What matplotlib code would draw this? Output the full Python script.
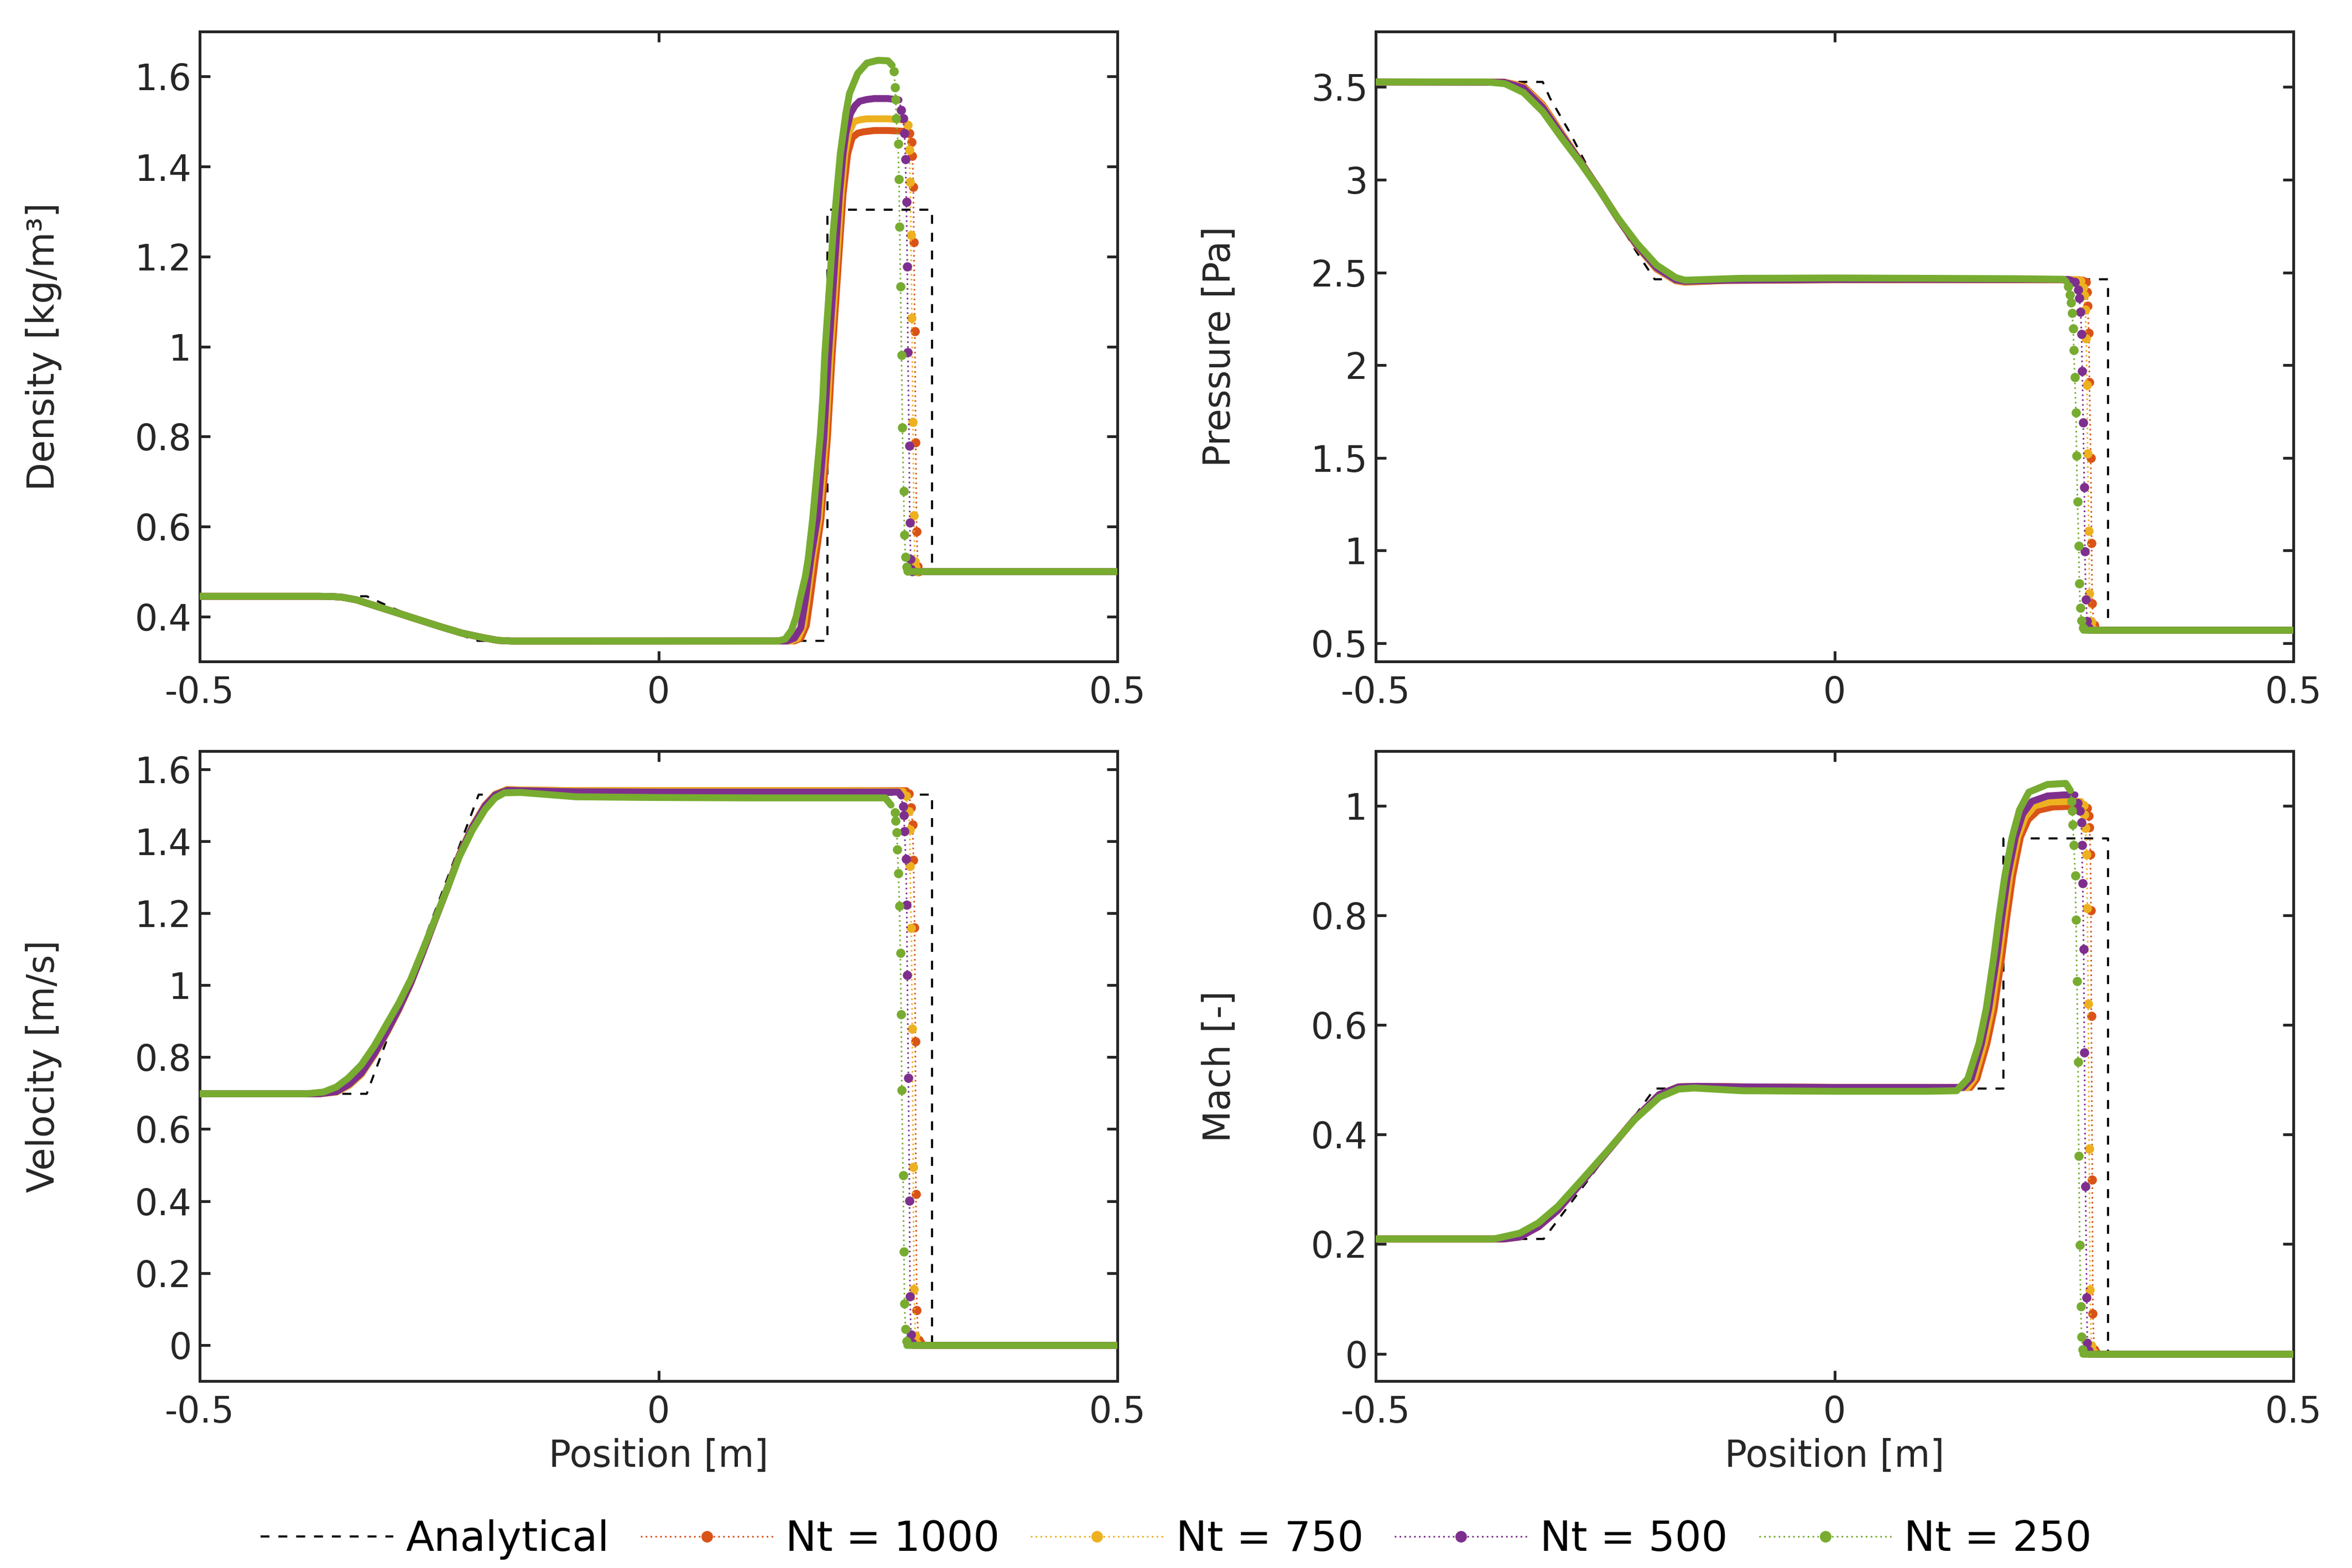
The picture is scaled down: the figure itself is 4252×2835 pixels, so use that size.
import matplotlib
matplotlib.use("Agg")
import matplotlib.pyplot as plt
from matplotlib.lines import Line2D
from matplotlib.ticker import FormatStrFormatter

plt.rcParams['font.family'] = ['DejaVu Sans']
plt.rcParams['axes.unicode_minus'] = False

# --- data (Lax shock tube, x in m) ---
x_domain = [-0.5, 0.5]
runs = ['Nt = 1000', 'Nt = 750', 'Nt = 500', 'Nt = 250']
run_colors = ['#D95319', '#EDB120', '#7E2F8E', '#77AC30']

# density
rho_exact_x = [-0.5, -0.318, -0.29, -0.26, -0.23, -0.197, 0.184, 0.184, 0.298, 0.298, 0.5]
rho_exact_y = [0.445, 0.445, 0.419, 0.394, 0.369, 0.346, 0.346, 1.304, 1.304, 0.5, 0.5]
rho_fan_x = [-0.5, -0.37, -0.356, -0.345, -0.329, -0.306, -0.283, -0.26, -0.237, -0.214, -0.191, -0.175, -0.16]
rho_fan_y = [0.445, 0.445, 0.4445, 0.443, 0.437, 0.422, 0.407, 0.392, 0.377, 0.363, 0.353, 0.347, 0.3455]
rho_right = 0.5

rho_1000_x = [0.148, 0.155, 0.161, 0.165, 0.171, 0.177, 0.184, 0.189, 0.195, 0.201, 0.206, 0.211, 0.217, 0.223, 0.235, 0.250, 0.270]
rho_1000_y = [0.3457, 0.352, 0.38, 0.438, 0.53, 0.618, 0.798, 0.978, 1.158, 1.338, 1.428, 1.464, 1.474, 1.477, 1.48, 1.48, 1.478]
rho_1000_sx = [0.2736, 0.2756, 0.2766, 0.2776, 0.2782, 0.2792, 0.2802, 0.2812, 0.2826, 0.2835]
rho_1000_sy = [1.474, 1.454, 1.423, 1.355, 1.232, 1.034, 0.787, 0.589, 0.512, 0.501]

rho_750_x = [0.145, 0.152, 0.158, 0.162, 0.168, 0.175, 0.182, 0.187, 0.193, 0.199, 0.203, 0.207, 0.213, 0.220, 0.227, 0.250, 0.268]
rho_750_y = [0.3457, 0.352, 0.38, 0.438, 0.53, 0.618, 0.798, 0.978, 1.158, 1.338, 1.428, 1.473, 1.5, 1.504, 1.506, 1.506, 1.503]
rho_750_sx = [0.2716, 0.2732, 0.2742, 0.275, 0.276, 0.2772, 0.2782, 0.2792, 0.28, 0.281]
rho_750_sy = [1.492, 1.437, 1.366, 1.248, 1.063, 0.832, 0.625, 0.523, 0.51, 0.501]

rho_500_x = [0.14, 0.148, 0.155, 0.160, 0.166, 0.173, 0.180, 0.185, 0.191, 0.197, 0.201, 0.204, 0.209, 0.214, 0.219, 0.227, 0.235, 0.250, 0.262]
rho_500_y = [0.3457, 0.352, 0.375, 0.438, 0.53, 0.618, 0.798, 0.978, 1.158, 1.338, 1.428, 1.473, 1.517, 1.535, 1.545, 1.549, 1.551, 1.551, 1.548]
rho_500_sx = [0.2645, 0.2665, 0.268, 0.269, 0.270, 0.271, 0.2717, 0.273, 0.2737, 0.2747, 0.2753, 0.2765]
rho_500_sy = [1.526, 1.507, 1.474, 1.416, 1.321, 1.178, 0.987, 0.780, 0.609, 0.528, 0.505, 0.501]

rho_250_x = [0.13, 0.138, 0.145, 0.150, 0.154, 0.160, 0.163, 0.168, 0.172, 0.176, 0.179, 0.181, 0.184, 0.187, 0.190, 0.194, 0.198, 0.204, 0.208, 0.217, 0.227, 0.239, 0.250, 0.2545]
rho_250_y = [0.3457, 0.350, 0.37, 0.40, 0.438, 0.49, 0.528, 0.618, 0.708, 0.798, 0.888, 0.978, 1.068, 1.158, 1.248, 1.338, 1.428, 1.517, 1.562, 1.607, 1.630, 1.636, 1.635, 1.625]
rho_250_sx = [0.2564, 0.2578, 0.2584, 0.259, 0.261, 0.262, 0.2627, 0.2637, 0.2647, 0.2657, 0.2670, 0.268, 0.269, 0.2704, 0.2715]
rho_250_sy = [1.612, 1.576, 1.549, 1.507, 1.450, 1.372, 1.266, 1.133, 0.981, 0.820, 0.679, 0.582, 0.533, 0.510, 0.502]

# pressure
p_exact_x = [-0.5, -0.318, -0.31, -0.289, -0.265, -0.241, -0.217, -0.196, 0.298, 0.298, 0.5]
p_exact_y = [3.528, 3.528, 3.44, 3.26, 3.03, 2.82, 2.62, 2.463, 2.463, 0.571, 0.571]
p_right = 0.571

p_1000_x = [-0.5, -0.36, -0.339, -0.318, -0.298, -0.277, -0.256, -0.236, -0.215, -0.194, -0.173, -0.163, -0.12, 0.0, 0.2, 0.267, 0.271]
p_1000_y = [3.528, 3.527, 3.505, 3.405, 3.255, 3.10, 2.945, 2.79, 2.64, 2.518, 2.455, 2.447, 2.456, 2.46, 2.46, 2.46, 2.458]
p_1000_sx = [0.2737, 0.2753, 0.2757, 0.2771, 0.2777, 0.2791, 0.2801, 0.2807, 0.2827, 0.2841]
p_1000_sy = [2.448, 2.395, 2.318, 2.174, 1.907, 1.5, 1.04, 0.713, 0.596, 0.576]

p_750_x = [-0.5, -0.36, -0.339, -0.318, -0.298, -0.277, -0.256, -0.236, -0.215, -0.194, -0.173, -0.163, -0.12, 0.0, 0.2, 0.262, 0.265]
p_750_y = [3.528, 3.527, 3.50, 3.40, 3.25, 3.10, 2.945, 2.79, 2.642, 2.52, 2.457, 2.449, 2.457, 2.461, 2.461, 2.461, 2.458]
p_750_sx = [0.2677, 0.2707, 0.2721, 0.2733, 0.2741, 0.2751, 0.2757, 0.2771, 0.2777, 0.2797, 0.2807]
p_750_sy = [2.455, 2.417, 2.375, 2.299, 2.143, 1.892, 1.524, 1.104, 0.766, 0.614, 0.583]

p_500_x = [-0.5, -0.36, -0.339, -0.318, -0.298, -0.277, -0.256, -0.236, -0.215, -0.194, -0.173, -0.163, -0.12, 0.0, 0.2, 0.255, 0.259]
p_500_y = [3.528, 3.526, 3.495, 3.39, 3.245, 3.098, 2.944, 2.79, 2.645, 2.525, 2.46, 2.452, 2.458, 2.462, 2.462, 2.462, 2.455]
p_500_sx = [0.2617, 0.2657, 0.2667, 0.2681, 0.2691, 0.2699, 0.2709, 0.2721, 0.2727, 0.2739, 0.2753, 0.2767]
p_500_sy = [2.448, 2.407, 2.361, 2.288, 2.166, 1.968, 1.691, 1.341, 0.994, 0.735, 0.617, 0.583]

p_250_x = [-0.5, -0.379, -0.359, -0.339, -0.318, -0.298, -0.277, -0.256, -0.236, -0.215, -0.194, -0.173, -0.163, -0.104, 0.0, 0.1, 0.2, 0.2497, 0.2525]
p_250_y = [3.528, 3.528, 3.518, 3.471, 3.368, 3.230, 3.092, 2.943, 2.793, 2.655, 2.540, 2.472, 2.458, 2.468, 2.470, 2.468, 2.466, 2.463, 2.450]
p_250_sx = [0.2547, 0.2567, 0.2577, 0.2589, 0.2601, 0.2607, 0.2617, 0.2631, 0.2637, 0.2647, 0.2661, 0.2667, 0.2677, 0.2689, 0.2707]
p_250_sy = [2.425, 2.379, 2.338, 2.280, 2.197, 2.082, 1.933, 1.743, 1.512, 1.264, 1.025, 0.822, 0.690, 0.621, 0.583]

# velocity
u_exact_x = [-0.5, -0.318, -0.196, 0.298, 0.298, 0.5]
u_exact_y = [0.698, 0.698, 1.529, 1.529, 0.0, 0.0]
u_right = 0.0

u_1000_x = [-0.5, -0.37, -0.351, -0.337, -0.324, -0.31, -0.297, -0.283, -0.270, -0.257, -0.244, -0.23, -0.217, -0.203, -0.189, -0.178, -0.165, -0.15, -0.09, 0.0, 0.1, 0.2, 0.270]
u_1000_y = [0.698, 0.698, 0.703, 0.722, 0.752, 0.805, 0.864, 0.932, 1.005, 1.09, 1.178, 1.27, 1.362, 1.44, 1.50, 1.53, 1.543, 1.542, 1.540, 1.540, 1.540, 1.540, 1.540]
u_1000_sx = [0.2724, 0.2754, 0.2768, 0.2778, 0.2790, 0.2798, 0.2804, 0.2814, 0.2834, 0.2854]
u_1000_sy = [1.532, 1.493, 1.445, 1.348, 1.160, 0.844, 0.419, 0.097, 0.014, 0.006]

u_750_x = [-0.5, -0.37, -0.351, -0.337, -0.324, -0.31, -0.297, -0.283, -0.270, -0.257, -0.244, -0.23, -0.217, -0.203, -0.189, -0.178, -0.165, -0.15, -0.09, 0.0, 0.1, 0.2, 0.2665]
u_750_y = [0.698, 0.698, 0.703, 0.722, 0.752, 0.805, 0.864, 0.932, 1.005, 1.09, 1.178, 1.27, 1.362, 1.44, 1.50, 1.53, 1.543, 1.542, 1.540, 1.540, 1.540, 1.540, 1.538]
u_750_sx = [0.2694, 0.2724, 0.2738, 0.2740, 0.2754, 0.2764, 0.2774, 0.2784, 0.2798, 0.2814]
u_750_sy = [1.526, 1.482, 1.432, 1.331, 1.159, 0.879, 0.494, 0.155, 0.026, 0.006]

u_500_x = [-0.5, -0.37, -0.351, -0.337, -0.324, -0.31, -0.297, -0.283, -0.270, -0.257, -0.244, -0.23, -0.217, -0.203, -0.189, -0.178, -0.165, -0.15, -0.09, 0.0, 0.1, 0.2, 0.2613, 0.2644]
u_500_y = [0.698, 0.698, 0.704, 0.725, 0.755, 0.808, 0.866, 0.934, 1.006, 1.09, 1.178, 1.27, 1.36, 1.438, 1.498, 1.528, 1.541, 1.540, 1.537, 1.536, 1.536, 1.536, 1.536, 1.525]
u_500_sx = [0.2664, 0.2674, 0.2680, 0.2694, 0.2704, 0.2710, 0.2722, 0.2734, 0.2740, 0.2750, 0.2764]
u_500_sy = [1.496, 1.471, 1.427, 1.350, 1.223, 1.027, 0.742, 0.401, 0.135, 0.029, 0.006]

u_250_x = [-0.5, -0.384, -0.365, -0.351, -0.338, -0.324, -0.31, -0.297, -0.283, -0.270, -0.257, -0.244, -0.23, -0.217, -0.203, -0.189, -0.178, -0.168, -0.150, -0.09, 0.0, 0.1, 0.2, 0.247, 0.2533]
u_250_y = [0.698, 0.698, 0.703, 0.717, 0.742, 0.778, 0.83, 0.888, 0.95, 1.016, 1.097, 1.180, 1.27, 1.357, 1.43, 1.488, 1.52, 1.534, 1.535, 1.523, 1.521, 1.520, 1.520, 1.520, 1.500]
u_250_sx = [0.2574, 0.2584, 0.2597, 0.2603, 0.2613, 0.2626, 0.2634, 0.2644, 0.2650, 0.2664, 0.2674, 0.2680, 0.2690, 0.2704]
u_250_sy = [1.479, 1.457, 1.424, 1.377, 1.311, 1.220, 1.089, 0.919, 0.708, 0.472, 0.259, 0.115, 0.045, 0.011]

# Mach number
M_exact_x = [-0.5, -0.317, -0.256, -0.196, 0.184, 0.184, 0.298, 0.298, 0.5]
M_exact_y = [0.2095, 0.2095, 0.345, 0.484, 0.484, 0.9406, 0.9406, 0.0, 0.0]
M_fan_x = [-0.5, -0.36, -0.343, -0.3225, -0.3015, -0.274, -0.246, -0.218, -0.191, -0.17, -0.15, -0.1, 0.0, 0.1]
M_fan_y = [0.2095, 0.2095, 0.213, 0.232, 0.262, 0.316, 0.372, 0.428, 0.473, 0.487, 0.488, 0.487, 0.486, 0.486]
M_right = 0.0

M_1000_x = [0.148, 0.155, 0.166, 0.174, 0.182, 0.188, 0.194, 0.2025, 0.211, 0.222, 0.238, 0.255, 0.273]
M_1000_y = [0.486, 0.502, 0.566, 0.630, 0.723, 0.801, 0.872, 0.943, 0.975, 0.992, 0.998, 0.999, 0.999]
M_1000_sx = [0.2754, 0.2768, 0.2778, 0.2788, 0.2794, 0.2798, 0.2808, 0.2814, 0.2828, 0.2848]
M_1000_sy = [0.9964, 0.9822, 0.9609, 0.911, 0.8093, 0.6159, 0.3171, 0.073, 0.0077, 0.003]

M_750_x = [0.145, 0.152, 0.163, 0.171, 0.179, 0.185, 0.191, 0.1995, 0.208, 0.218, 0.235, 0.255, 0.2685]
M_750_y = [0.486, 0.502, 0.566, 0.630, 0.723, 0.801, 0.872, 0.943, 0.98, 1.0, 1.007, 1.008, 1.008]
M_750_sx = [0.2714, 0.2722, 0.2734, 0.2748, 0.2754, 0.2764, 0.2774, 0.2784, 0.2798, 0.2818]
M_750_sy = [1.0014, 0.9843, 0.9594, 0.911, 0.8136, 0.6386, 0.3739, 0.1164, 0.0147, 0.004]

M_500_x = [0.14, 0.149, 0.160, 0.168, 0.1765, 0.1825, 0.1885, 0.197, 0.205, 0.215, 0.232, 0.250, 0.262]
M_500_y = [0.486, 0.502, 0.566, 0.630, 0.723, 0.801, 0.872, 0.943, 0.985, 1.008, 1.018, 1.020, 1.020]
M_500_sx = [0.2648, 0.2674, 0.2688, 0.2694, 0.2704, 0.2714, 0.2722, 0.2734, 0.2748, 0.2754, 0.2768]
M_500_sy = [1.005, 0.9914, 0.9697, 0.9288, 0.8591, 0.7389, 0.5497, 0.3056, 0.1022, 0.0197, 0.0055]

M_250_fan_x = [-0.5, -0.371, -0.343, -0.3225, -0.3015, -0.274, -0.246, -0.218, -0.191, -0.170, -0.153, -0.101, 0.0, 0.1]
M_250_fan_y = [0.2095, 0.2095, 0.220, 0.239, 0.269, 0.320, 0.373, 0.427, 0.468, 0.483, 0.485, 0.480, 0.479, 0.479]
M_250_x = [0.133, 0.1452, 0.1573, 0.1653, 0.1734, 0.1794, 0.1855, 0.1935, 0.2016, 0.2117, 0.2318, 0.252, 0.257]
M_250_y = [0.480, 0.502, 0.566, 0.630, 0.723, 0.801, 0.872, 0.943, 0.993, 1.025, 1.039, 1.041, 1.028]
M_250_sx = [0.2583, 0.2591, 0.2597, 0.2607, 0.2623, 0.2631, 0.2641, 0.2653, 0.2661, 0.2672, 0.2682, 0.2692, 0.2704]
M_250_sy = [1.0085, 0.9914, 0.9659, 0.9288, 0.8733, 0.7922, 0.680, 0.5326, 0.3612, 0.1983, 0.0866, 0.0311, 0.0077]

# --- styling ---
BAND = 3.0      # width of the dense-dot band (pt)
DOT = 3.0       # marker size (pt)
DOTTED = (0, (1, 2))
DASHED = (0, (4.3, 4.3))
INK = '#262626'


def draw_run(ax, x, y, sx, sy, right, color, z):
    # smooth part: the markers overlap into a solid band
    ax.plot(x, y, color=color, lw=BAND, solid_capstyle='round',
            solid_joinstyle='round', zorder=z)
    # shock: separated dots joined by a thin dotted line
    ax.plot([x[-1]] + sx, [y[-1]] + sy, color=color, lw=0.7, ls=DOTTED, zorder=z)
    ax.plot(sx, sy, 'o', color=color, ms=DOT, zorder=z)
    ax.plot([sx[-1], x_domain[1]], [right, right], color=color, lw=BAND,
            solid_capstyle='round', zorder=z)


def style_axes(ax, ylim, yticks, ylabel, xlabel=None):
    ax.set_xlim(x_domain)
    ax.set_ylim(ylim)
    ax.set_xticks([-0.5, 0, 0.5])
    ax.set_yticks(yticks)
    ax.xaxis.set_major_formatter(FormatStrFormatter('%g'))
    ax.yaxis.set_major_formatter(FormatStrFormatter('%g'))
    ax.tick_params(direction='in', top=True, right=True, length=4.5, width=1.2,
                   labelsize=15.5, colors=INK, labelcolor=INK)
    ax.tick_params(axis='x', pad=6)
    for s in ax.spines.values():
        s.set_linewidth(1.2)
        s.set_color(INK)
    ax.set_ylabel(ylabel, fontsize=16, color=INK)
    ax.yaxis.set_label_coords(-0.15, 0.5)
    if xlabel:
        ax.set_xlabel(xlabel, fontsize=16, color=INK)
        ax.xaxis.set_label_coords(0.5, -0.09)


fig = plt.figure(figsize=(4252 / 300, 2835 / 300), dpi=300)
W, H = 0.3902, 0.4018
ax_rho = fig.add_axes([0.0849, 0.5781, W, H])
ax_p = fig.add_axes([0.5849, 0.5781, W, H])
ax_u = fig.add_axes([0.0849, 0.1192, W, H])
ax_M = fig.add_axes([0.5849, 0.1192, W, H])

# density
ax_rho.plot(rho_exact_x, rho_exact_y, color='black', lw=0.9, ls=DASHED, zorder=1)
rho_runs = [(rho_1000_x, rho_1000_y, rho_1000_sx, rho_1000_sy),
            (rho_750_x, rho_750_y, rho_750_sx, rho_750_sy),
            (rho_500_x, rho_500_y, rho_500_sx, rho_500_sy),
            (rho_250_x, rho_250_y, rho_250_sx, rho_250_sy)]
for i, (x, y, sx, sy) in enumerate(rho_runs):
    draw_run(ax_rho, rho_fan_x + x, rho_fan_y + y, sx, sy, rho_right, run_colors[i], 2 + i)
style_axes(ax_rho, (0.3, 1.7), [0.4, 0.6, 0.8, 1.0, 1.2, 1.4, 1.6], 'Density [kg/m³]')

# pressure
ax_p.plot(p_exact_x, p_exact_y, color='black', lw=0.9, ls=DASHED, zorder=1)
p_runs = [(p_1000_x, p_1000_y, p_1000_sx, p_1000_sy),
          (p_750_x, p_750_y, p_750_sx, p_750_sy),
          (p_500_x, p_500_y, p_500_sx, p_500_sy),
          (p_250_x, p_250_y, p_250_sx, p_250_sy)]
for i, (x, y, sx, sy) in enumerate(p_runs):
    draw_run(ax_p, x, y, sx, sy, p_right, run_colors[i], 2 + i)
style_axes(ax_p, (0.4, 3.8), [0.5, 1.0, 1.5, 2.0, 2.5, 3.0, 3.5], 'Pressure [Pa]')

# velocity
ax_u.plot(u_exact_x, u_exact_y, color='black', lw=0.9, ls=DASHED, zorder=1)
u_runs = [(u_1000_x, u_1000_y, u_1000_sx, u_1000_sy),
          (u_750_x, u_750_y, u_750_sx, u_750_sy),
          (u_500_x, u_500_y, u_500_sx, u_500_sy),
          (u_250_x, u_250_y, u_250_sx, u_250_sy)]
for i, (x, y, sx, sy) in enumerate(u_runs):
    draw_run(ax_u, x, y, sx, sy, u_right, run_colors[i], 2 + i)
style_axes(ax_u, (-0.1, 1.65), [0, 0.2, 0.4, 0.6, 0.8, 1.0, 1.2, 1.4, 1.6],
           'Velocity [m/s]', 'Position [m]')

# Mach
ax_M.plot(M_exact_x, M_exact_y, color='black', lw=0.9, ls=DASHED, zorder=1)
M_runs = [(M_fan_x + M_1000_x, M_fan_y + M_1000_y, M_1000_sx, M_1000_sy),
          (M_fan_x + M_750_x, M_fan_y + M_750_y, M_750_sx, M_750_sy),
          (M_fan_x + M_500_x, M_fan_y + M_500_y, M_500_sx, M_500_sy),
          (M_250_fan_x + M_250_x, M_250_fan_y + M_250_y, M_250_sx, M_250_sy)]
for i, (x, y, sx, sy) in enumerate(M_runs):
    draw_run(ax_M, x, y, sx, sy, M_right, run_colors[i], 2 + i)
style_axes(ax_M, (-0.05, 1.1), [0, 0.2, 0.4, 0.6, 0.8, 1.0], 'Mach [-]', 'Position [m]')

# legend
handles = [Line2D([], [], color='black', lw=0.9, ls=DASHED)]
for c in run_colors:
    handles.append(Line2D([], [], color=c, lw=0.7, ls=DOTTED, marker='o', ms=4))
fig.legend(handles, ['Analytical'] + runs, loc='center', bbox_to_anchor=(0.5, 0.018),
           ncol=5, frameon=False, fontsize=18, handlelength=3.2, handletextpad=0.3,
           columnspacing=0.75)

fig.savefig('out.png', dpi=300)
